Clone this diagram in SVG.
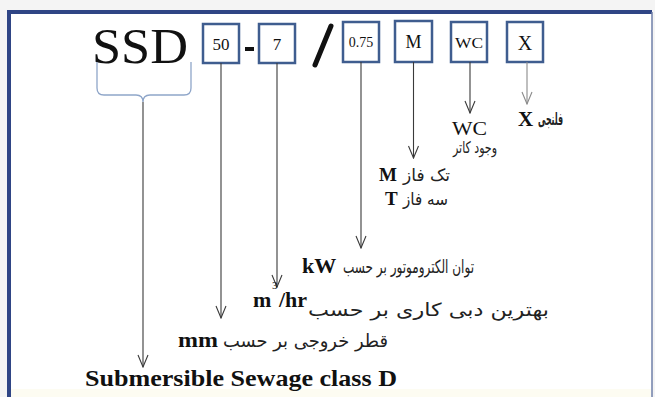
<svg xmlns="http://www.w3.org/2000/svg" width="655" height="397" viewBox="0 0 655 397">
<defs>
<style>
.box{fill:#fff;stroke:#3f5d8f;stroke-width:2.5}
.bt{font-family:"Liberation Serif",serif;fill:#111;text-anchor:middle}
.ln{stroke:#3a3a3a;stroke-width:1.1;fill:none}
.lb{font-family:"Liberation Serif",serif;font-weight:bold;fill:#111}
.fa{font-family:"DejaVu Sans",sans-serif;fill:#222;text-anchor:end}
</style>
<marker id="ah" viewBox="-13 -6 14 12" refX="0" refY="0" markerWidth="14" markerHeight="12" markerUnits="userSpaceOnUse" orient="auto">
<path d="M-12,-5 L0,0 L-12,5" fill="none" stroke="#3a3a3a" stroke-width="1.1"/>
</marker>
<marker id="ah2" viewBox="-13 -6 14 12" refX="0" refY="0" markerWidth="14" markerHeight="12" markerUnits="userSpaceOnUse" orient="auto">
<path d="M-12,-5 L0,0 L-12,5" fill="none" stroke="#8a8a8a" stroke-width="1.1"/>
</marker>
</defs>
<rect x="0" y="0" width="655" height="397" fill="#f4f4f4"/>
<rect x="9" y="12" width="643" height="385" fill="#ffffff"/>
<rect x="11" y="389" width="640" height="8" fill="#fdfcf2"/>
<path d="M9,397 V12 H652" fill="none" stroke="#2f4585" stroke-width="4"/>
<line x1="652" y1="12" x2="652" y2="397" stroke="#6f7fa8" stroke-width="1.5"/>

<g id="ssd">
<text x="92" y="63" font-family="Liberation Serif, serif" font-size="50" fill="#111" textLength="96" lengthAdjust="spacingAndGlyphs">SSD</text>
<path d="M97,62 V88 Q97,95 104,95 H136 Q143,95 143,102 Q143,95 150,95 H184 Q191,95 191,88 V62" fill="none" stroke="#8fa6c9" stroke-width="1.3"/>
</g>
<g id="box-50"><rect class="box" x="203" y="24" width="36" height="39"/><text class="bt" x="221" y="50" font-size="17">50</text></g>
<rect x="245" y="47" width="9" height="4" fill="#111"/>
<g id="box-7"><rect class="box" x="259" y="24" width="36" height="39"/><text class="bt" x="277" y="50" font-size="17">7</text></g>
<line x1="315" y1="65" x2="331" y2="26" stroke="#111" stroke-width="5" stroke-linecap="round"/>
<g id="box-075"><rect class="box" x="343" y="22" width="36" height="40"/><text class="bt" x="361" y="47" font-size="14">0.75</text></g>
<g id="box-M"><rect class="box" x="395" y="21" width="37" height="41"/><text class="bt" x="413.5" y="48" font-size="18">M</text></g>
<g id="box-WC"><rect class="box" x="451" y="22" width="36" height="40"/><text class="bt" x="469" y="48" font-size="14" textLength="28" lengthAdjust="spacingAndGlyphs">WC</text></g>
<g id="box-X"><rect class="box" x="507" y="22" width="36" height="40"/><text class="bt" x="525" y="50" font-size="20">X</text></g>

<g id="connectors">
<line class="ln" x1="143" y1="102" x2="143" y2="367" marker-end="url(#ah)"/>
<line class="ln" x1="221" y1="63" x2="221" y2="318" marker-end="url(#ah)"/>
<line class="ln" x1="277" y1="63" x2="277" y2="287" marker-end="url(#ah)"/>
<line class="ln" x1="361" y1="62" x2="361" y2="248" marker-end="url(#ah)"/>
<line class="ln" x1="413.5" y1="62" x2="413.5" y2="158" marker-end="url(#ah)"/>
<line class="ln" x1="470" y1="62" x2="470" y2="113" marker-end="url(#ah)"/>
<line x1="527" y1="62" x2="527" y2="104" stroke="#8a8a8a" stroke-width="1.1" marker-end="url(#ah2)"/>
</g>

<g id="label-X">
<text class="lb" x="518" y="126" font-size="21">X</text>
<text class="fa" x="563" y="125" font-size="17" font-weight="bold" textLength="25" lengthAdjust="spacingAndGlyphs">فلنجی</text>
</g>
<g id="label-WC">
<text x="452" y="135" font-family="Liberation Serif, serif" font-size="18" fill="#111" textLength="35" lengthAdjust="spacingAndGlyphs">WC</text>
<text class="fa" x="497" y="153" font-size="16" textLength="44" lengthAdjust="spacingAndGlyphs">وجود کاتر</text>
</g>
<g id="label-M">
<text class="lb" x="379" y="181" font-size="19">M</text>
<text class="fa" x="450" y="181" font-size="17" textLength="47" lengthAdjust="spacingAndGlyphs">تک فاز</text>
<text class="lb" x="385" y="205" font-size="19">T</text>
<text class="fa" x="448" y="205" font-size="17" textLength="45" lengthAdjust="spacingAndGlyphs">سه فاز</text>
</g>
<g id="label-kW">
<text class="lb" x="302" y="273" font-size="22">kW</text>
<text class="fa" x="474" y="273" font-size="18" textLength="131" lengthAdjust="spacingAndGlyphs">توان الکتروموتور بر حسب</text>
</g>
<g id="label-m3hr">
<text class="lb" x="253" y="307" font-size="22">m</text>
<text x="272" y="289" font-family="Liberation Serif, serif" font-size="11" fill="#111">3</text>
<text class="lb" x="279" y="307" font-size="22">/hr</text>
<text class="fa" x="549" y="316" font-size="18" textLength="241" lengthAdjust="spacingAndGlyphs">بهترین دبی کاری بر حسب</text>
</g>
<g id="label-mm">
<text class="lb" x="178" y="347" font-size="22" textLength="40" lengthAdjust="spacingAndGlyphs">mm</text>
<text class="fa" x="388" y="347" font-size="18" textLength="165" lengthAdjust="spacingAndGlyphs">قطر خروجی بر حسب</text>
</g>
<g id="label-ssd">
<text class="lb" x="85" y="386" font-size="24" textLength="312" lengthAdjust="spacingAndGlyphs">Submersible  Sewage class D</text>
</g>
</svg>
